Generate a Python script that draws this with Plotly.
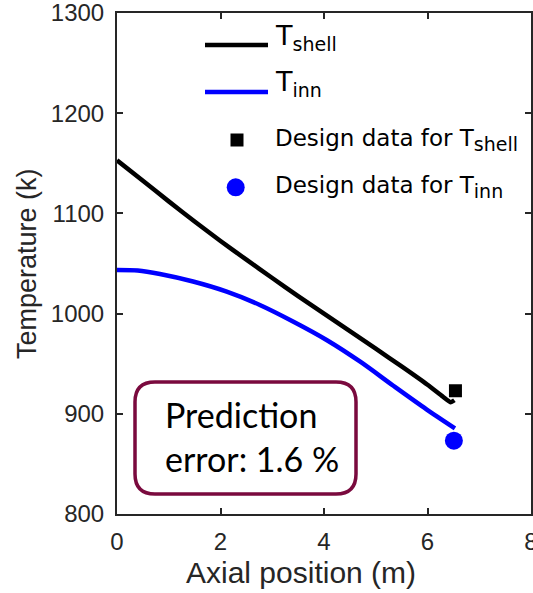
import plotly.graph_objects as go

# Axial temperature profiles along the reactor
x_shell = [0.0, 0.5, 1.0, 1.5, 2.0, 2.5, 3.0, 3.5, 4.0, 4.5, 5.0, 5.5, 6.0, 6.3, 6.45, 6.52]
t_shell = [1153, 1132.5, 1112, 1092, 1072.5, 1053.8, 1035.5, 1017.5, 1000, 982.5, 965,
           947.3, 929, 917, 911.5, 913.5]

x_inn = [0.0, 0.4, 0.83, 1.47, 2.12, 2.76, 3.41, 4.05, 4.70, 5.34, 5.98, 6.53]
t_inn = [1043.5, 1043, 1039.5, 1032, 1021.9, 1008.6, 991.9, 973.7, 952, 928, 904.5, 885.5]

# Plant design values at the reactor outlet
design_x_shell = [6.54]
design_t_shell = [923]
design_x_inn = [6.51]
design_t_inn = [873.2]

x_ticks = [0, 2, 4, 6, 8]
y_ticks = [800, 900, 1000, 1100, 1200, 1300]

AX = "#262626"
W, H = 533, 593
L, R, T, B = 117, 2, 13, 79
PW, PH = W - L - R, H - T - B


def px(xp):
    return (xp - L) / PW


def py(yp):
    return (H - B - yp) / PH


fig = go.Figure()
fig.add_trace(go.Scatter(x=x_shell, y=t_shell, mode="lines",
                         line=dict(color="black", width=4.5, shape="spline", smoothing=0.5),
                         showlegend=False))
fig.add_trace(go.Scatter(x=x_inn, y=t_inn, mode="lines",
                         line=dict(color="#0000ff", width=4.5, shape="spline", smoothing=0.8),
                         showlegend=False))
fig.add_trace(go.Scatter(x=design_x_shell, y=design_t_shell, mode="markers",
                         marker=dict(symbol="square", size=13, color="black"),
                         showlegend=False))
fig.add_trace(go.Scatter(x=design_x_inn, y=design_t_inn, mode="markers",
                         marker=dict(symbol="circle", size=18, color="#0000ff"),
                         showlegend=False))

axis_common = dict(
    showline=True, linecolor=AX, linewidth=2, mirror="ticks",
    ticks="inside", ticklen=6, tickwidth=2, tickcolor=AX,
    showgrid=False, zeroline=False, ticklabeloverflow="allow", automargin=False,
    tickfont=dict(family="Liberation Sans, Arial", size=24, color=AX),
)

fig.update_layout(
    width=W, height=H,
    margin=dict(l=L, r=R, t=T, b=B),
    plot_bgcolor="white", paper_bgcolor="white",
    xaxis=dict(range=[0, 8], tickvals=x_ticks, ticklabelstandoff=5, **axis_common),
    yaxis=dict(range=[800, 1300], tickvals=y_ticks, ticklabelstandoff=6, **axis_common),
    showlegend=False,
)

shapes = []
annotations = []

# axis titles
annotations.append(dict(text="Axial position (m)", xref="paper", yref="paper",
                        x=px(301), y=py(572), xanchor="center", yanchor="middle",
                        showarrow=False,
                        font=dict(family="Liberation Sans, Arial", size=30, color=AX)))
annotations.append(dict(text="Temperature (k)", xref="paper", yref="paper",
                        x=px(27), y=py(264), xanchor="center", yanchor="middle",
                        textangle=-90, showarrow=False,
                        font=dict(family="Liberation Sans, Arial", size=27, color=AX)))

# legend drawn by hand
leg_font = "DejaVu Sans, Liberation Sans, Arial"
shapes.append(dict(type="line", xref="paper", yref="paper",
                   x0=px(205), x1=px(268), y0=py(45), y1=py(45),
                   line=dict(color="black", width=4.5)))
shapes.append(dict(type="line", xref="paper", yref="paper",
                   x0=px(205), x1=px(268), y0=py(92), y1=py(92),
                   line=dict(color="#0000ff", width=4.5)))
shapes.append(dict(type="rect", xref="paper", yref="paper",
                   xsizemode="pixel", ysizemode="pixel",
                   xanchor=px(237), yanchor=py(140),
                   x0=-6.5, x1=6.5, y0=-6.5, y1=6.5,
                   fillcolor="black", line=dict(width=0)))
shapes.append(dict(type="circle", xref="paper", yref="paper",
                   xsizemode="pixel", ysizemode="pixel",
                   xanchor=px(235.7), yanchor=py(187.3),
                   x0=-9, x1=9, y0=-9, y1=9,
                   fillcolor="#0000ff", line=dict(width=0)))

sub = "<span style='font-size:19px'>{}</span>"
legend_rows = [
    ("T<sub>" + sub.format("shell") + "</sub>", 27, 37),
    ("T<sub>" + sub.format("inn") + "</sub>", 27, 84),
    ("Design data for T<sub>" + sub.format("shell") + "</sub>", 23, 140),
    ("Design data for T<sub>" + sub.format("inn") + "</sub>", 23, 187),
]
for txt, size, yc in legend_rows:
    annotations.append(dict(text=txt, xref="paper", yref="paper",
                            x=px(273), y=py(yc), xanchor="left", yanchor="middle",
                            showarrow=False,
                            font=dict(family=leg_font, size=size, color="black")))

# rounded callout box
x0b, x1b = px(135), px(356)
y1b, y0b = py(382), py(494)
rx, ry = 20 / PW, 20 / PH
path = (f"M {x0b + rx},{y1b} L {x1b - rx},{y1b} Q {x1b},{y1b} {x1b},{y1b - ry} "
        f"L {x1b},{y0b + ry} Q {x1b},{y0b} {x1b - rx},{y0b} "
        f"L {x0b + rx},{y0b} Q {x0b},{y0b} {x0b},{y0b + ry} "
        f"L {x0b},{y1b - ry} Q {x0b},{y1b} {x0b + rx},{y1b} Z")
shapes.append(dict(type="path", xref="paper", yref="paper", path=path,
                   line=dict(color="#7a0a3e", width=3.5), fillcolor="rgba(0,0,0,0)"))
annotations.append(dict(text="Prediction<br>error: 1.6 %", xref="paper", yref="paper",
                        x=px(163), y=py(437), xanchor="left", yanchor="middle",
                        align="left", showarrow=False,
                        font=dict(family="Lato, Open Sans", size=34, color="black")))

fig.update_layout(shapes=shapes, annotations=annotations)
fig.write_html("out.html")
